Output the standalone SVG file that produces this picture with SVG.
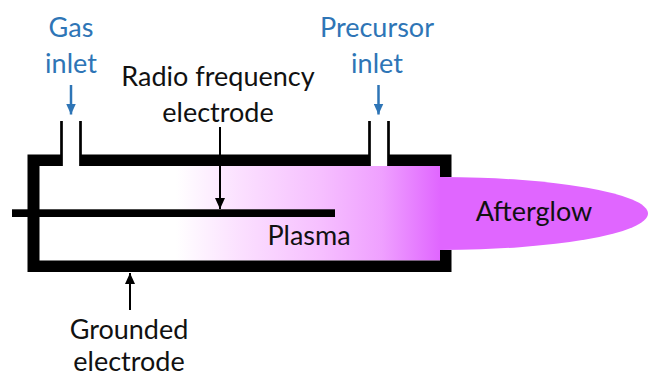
<svg xmlns="http://www.w3.org/2000/svg" width="648" height="376" viewBox="0 0 648 376">
<style>
text{font-family:"Lato","Liberation Sans",sans-serif;font-size:27px;fill:#111;text-anchor:middle}
.blue{fill:#2e75b6}
</style>
<defs>
<linearGradient id="plasma" gradientUnits="userSpaceOnUse" x1="176" y1="0" x2="440" y2="0">
<stop offset="0" stop-color="#fff"/><stop offset="0.25" stop-color="#fbdfff"/><stop offset="0.55" stop-color="#f6bfff"/><stop offset="0.78" stop-color="#efa0ff"/><stop offset="1" stop-color="#e066ff"/>
</linearGradient>
<marker id="ab" markerUnits="userSpaceOnUse" markerWidth="11" markerHeight="10" refX="11" refY="5" orient="auto"><path d="M0 0L11 5L0 10z" fill="#000"/></marker>
<marker id="ab2" markerUnits="userSpaceOnUse" markerWidth="11" markerHeight="10" refX="11" refY="5" orient="auto"><path d="M0 0L11 5L0 10z" fill="#2e75b6"/></marker>
</defs>
<g id="afterglow"><ellipse cx="440" cy="213.500" rx="208" ry="36.500" fill="#e066ff"/><text x="534" y="221">Afterglow</text></g>
<g id="chamber">
<rect x="39.500" y="166" width="400.500" height="94.500" fill="url(#plasma)"/>
<path d="M27.500 154.500H61V166H39.500V260.500H440V250H451.500V272H27.500ZM80 154.500H369.500V166H80ZM388.500 154.500H451.500V177H440V166H388.500Z" fill="#000"/>
<path d="M61.500 121V166M80.500 121V166M369.500 121V166M388.500 121V166" stroke="#000" stroke-width="2.700" fill="none"/>
</g>
<g id="rf-electrode"><rect x="12" y="209.300" width="323" height="7.700" fill="#000"/><text x="218" y="86">Radio frequency</text><text x="218" y="122">electrode</text></g>
<g id="plasma-label"><text x="309" y="245">Plasma</text></g>
<g id="gas-inlet"><text class="blue" x="71" y="37">Gas</text><text class="blue" x="71" y="73">inlet</text></g>
<g id="precursor-inlet"><text class="blue" x="377" y="37">Precursor</text><text class="blue" x="377" y="73">inlet</text></g>
<g id="grounded-electrode"><text x="129" y="339">Grounded</text><text x="129" y="371">electrode</text></g>
<g id="connectors" fill="none" stroke-width="2">
<path d="M71 85V114.500" stroke="#2e75b6" stroke-width="2.500" marker-end="url(#ab2)"/>
<path d="M378.500 85V114.500" stroke="#2e75b6" stroke-width="2.500" marker-end="url(#ab2)"/>
<path d="M220 127V209" stroke="#000" marker-end="url(#ab)"/>
<path d="M130 310V273" stroke="#000" marker-end="url(#ab)"/>
</g>
</svg>
